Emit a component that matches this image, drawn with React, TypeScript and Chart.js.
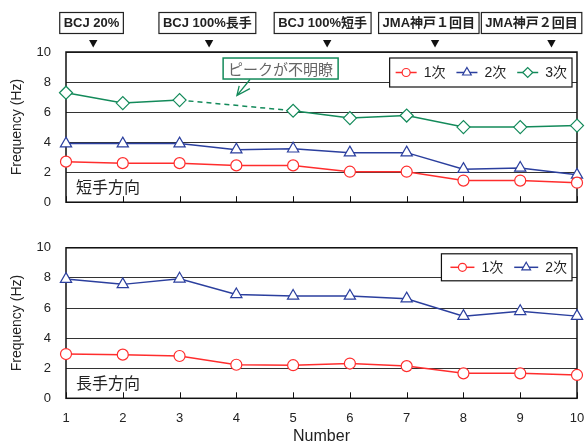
import React, { useEffect, useRef } from 'react';
import { Chart, registerables } from 'chart.js';
import { drawPoint } from 'chart.js/helpers';
Chart.register(...registerables);

// ---- data ----
const numbers = [1, 2, 3, 4, 5, 6, 7, 8, 9, 10];
const short1 = [2.7, 2.6, 2.6, 2.45, 2.45, 2.03, 2.03, 1.44, 1.44, 1.3];
const short2 = [3.9, 3.9, 3.9, 3.5, 3.56, 3.3, 3.3, 2.2, 2.28, 1.82];
const short3 = [7.29, 6.6, 6.8, null, 6.09, 5.6, 5.77, 5.0, 5.0, 5.1];
const long1 = [2.94, 2.9, 2.81, 2.23, 2.2, 2.31, 2.14, 1.66, 1.66, 1.55];
const long2 = [7.92, 7.57, 7.94, 6.9, 6.8, 6.8, 6.62, 5.46, 5.78, 5.46];
const yTicks = [0, 2, 4, 6, 8, 10];
const seriesNames = ['1次', '2次', '3次'];
const caseLabels = ['BCJ 20%', 'BCJ 100%長手', 'BCJ 100%短手', 'JMA神戸１回目', 'JMA神戸２回目'];
const caseArrowAt = [1.48, 3.52, 5.6, 7.5, 9.55];
const caseBoxAt = [1.45, 3.49, 5.52, 7.39, 9.2];
const noteText = 'ピークが不明瞭';

// ---- styles ----
const RED = '#ff2d2d';
const BLUE = '#2b3f9e';
const GREEN = '#138a5a';
const FONT = "'Liberation Sans', Arial, 'Noto Sans CJK JP', sans-serif";
const CJK = "'Noto Sans CJK JP', 'Liberation Sans', sans-serif";
const TXT = '#222';

const styles = [
  { color: RED, pointStyle: 'circle', radius: 5.5 },
  { color: BLUE, pointStyle: 'triangle', radius: 6.5 },
  { color: GREEN, pointStyle: 'rectRot', radius: 6.5 },
];

const decoPlugin = {
  id: 'deco',
  beforeDatasetsDraw(chart: any) {
    const { ctx, chartArea: ca } = chart;
    const xs = chart.scales.x;
    ctx.save();
    ctx.strokeStyle = '#111';
    ctx.lineWidth = 1.5;
    ctx.strokeRect(ca.left, ca.top, ca.right - ca.left, ca.bottom - ca.top);
    ctx.lineWidth = 1;
    numbers.forEach((n) => {
      const x = Math.round(xs.getPixelForValue(n)) + 0.5;
      ctx.beginPath();
      ctx.moveTo(x, ca.bottom);
      ctx.lineTo(x, ca.bottom - 6);
      ctx.stroke();
    });
    ctx.restore();
  },
  afterDraw(chart: any, _a: any, opts: any) {
    const { ctx, chartArea: ca } = chart;
    const xs = chart.scales.x;
    const ys = chart.scales.y;
    ctx.save();
    // side label
    ctx.font = `16px ${CJK}`;
    ctx.fillStyle = TXT;
    ctx.textAlign = 'left';
    ctx.textBaseline = 'middle';
    ctx.fillText(opts.sideLabel, ca.left + 10, ca.bottom - 15);

    // legend
    const n = opts.legendCount;
    ctx.font = `14px ${FONT}`;
    const lineLen = opts.lineLen;
    const padL = opts.padL;
    const padR = 5;
    const gapText = 7;
    const gapItem = 11;
    const tw = seriesNames.slice(0, n).map((t) => ctx.measureText(t).width);
    let total = padL + padR;
    for (let i = 0; i < n; i++) total += lineLen + gapText + tw[i] + (i < n - 1 ? gapItem : 0);
    const bx = ca.right - 5 - total;
    const by = ca.top + 6;
    const bh = opts.legendH;
    ctx.fillStyle = '#fff';
    ctx.fillRect(bx, by, total, bh);
    ctx.strokeStyle = '#111';
    ctx.lineWidth = 1.2;
    ctx.strokeRect(bx, by, total, bh);
    let cx = bx + padL;
    const cy = by + bh / 2;
    for (let i = 0; i < n; i++) {
      const st = styles[i];
      ctx.strokeStyle = st.color;
      ctx.lineWidth = 1.5;
      ctx.beginPath();
      ctx.moveTo(cx, cy);
      ctx.lineTo(cx + lineLen, cy);
      ctx.stroke();
      ctx.fillStyle = '#fff';
      ctx.strokeStyle = st.color;
      ctx.lineWidth = 1.2;
      drawPoint(ctx, { pointStyle: st.pointStyle, rotation: 0, radius: st.radius - 1.5, borderWidth: 1.2 } as any, cx + lineLen / 2, cy);
      ctx.fillStyle = TXT;
      ctx.textAlign = 'left';
      ctx.textBaseline = 'middle';
      ctx.font = `14px ${FONT}`;
      ctx.fillText(seriesNames[i], cx + lineLen + gapText, cy + 1);
      cx += lineLen + gapText + tw[i] + gapItem;
    }

    if (opts.showCases) {
      // case labels above chart
      ctx.font = `bold 13px ${FONT}`;
      caseLabels.forEach((lab, i) => {
        const w = ctx.measureText(lab).width + 8;
        const c = xs.getPixelForValue(caseBoxAt[i]);
        ctx.fillStyle = '#fff';
        ctx.fillRect(c - w / 2, 12.5, w, 21);
        ctx.strokeStyle = '#222';
        ctx.lineWidth = 1.2;
        ctx.strokeRect(c - w / 2, 12.5, w, 21);
        ctx.fillStyle = TXT;
        ctx.textAlign = 'center';
        ctx.textBaseline = 'middle';
        ctx.fillText(lab, c, 23.5);
        const ax = xs.getPixelForValue(caseArrowAt[i]);
        ctx.fillStyle = '#111';
        ctx.beginPath();
        ctx.moveTo(ax - 4.2, 40);
        ctx.lineTo(ax + 4.2, 40);
        ctx.lineTo(ax, 47.5);
        ctx.closePath();
        ctx.fill();
      });

      // note box
      ctx.font = `15px ${CJK}`;
      const nw = ctx.measureText(noteText).width + 10;
      const nx = xs.getPixelForValue(4.78);
      const ny = ys.getPixelForValue(8.9);
      ctx.fillStyle = '#fff';
      ctx.fillRect(nx - nw / 2, ny - 10.5, nw, 21);
      ctx.strokeStyle = GREEN;
      ctx.lineWidth = 1.5;
      ctx.strokeRect(nx - nw / 2, ny - 10.5, nw, 21);
      ctx.fillStyle = '#666';
      ctx.textAlign = 'center';
      ctx.textBaseline = 'middle';
      ctx.fillText(noteText, nx, ny + 1);
      // arrow
      const sx = xs.getPixelForValue(4.24), sy = ys.getPixelForValue(8.17);
      const tx = xs.getPixelForValue(4.01), ty = ys.getPixelForValue(7.1);
      ctx.strokeStyle = GREEN;
      ctx.lineWidth = 1.3;
      ctx.beginPath();
      ctx.moveTo(sx, sy);
      ctx.lineTo(tx, ty);
      ctx.moveTo(tx + 2.3, ty - 9.7);
      ctx.lineTo(tx, ty);
      ctx.lineTo(tx + 13, ty - 7);
      ctx.stroke();
    }
    ctx.restore();
  },
};

function makeConfig(series: (number | null)[][], o: any) {
  return {
    type: 'line',
    data: {
      datasets: series.map((vals, i) => ({
        label: seriesNames[i],
        data: numbers.map((n, j) => ({ x: n, y: vals[j] })),
        borderColor: styles[i].color,
        backgroundColor: '#fff',
        pointBorderColor: styles[i].color,
        pointBackgroundColor: '#fff',
        pointStyle: styles[i].pointStyle,
        pointRadius: styles[i].radius,
        pointBorderWidth: 1.2,
        borderWidth: 1.5,
        spanGaps: true,
        clip: false,
        segment: {
          borderDash: (ctx: any) => (ctx.p0.skip || ctx.p1.skip ? [5, 4] : undefined),
        },
      })),
    },
    options: {
      responsive: false,
      animation: false,
      layout: { padding: { top: o.top, right: 8, left: 0, bottom: 0 } },
      plugins: {
        legend: { display: false },
        tooltip: { enabled: false },
        deco: o.deco,
      },
      scales: {
        x: {
          type: 'linear',
          min: 1,
          max: 10,
          afterBuildTicks: (s: any) => { s.ticks = numbers.map((v) => ({ value: v })); },
          afterFit: (s: any) => { s.height = o.xh; s.paddingLeft = 0; s.paddingRight = 0; },
          grid: { display: false, drawTicks: false },
          border: { display: false },
          ticks: { display: o.showX, padding: 12, color: TXT, font: { family: FONT, size: 13 } },
          title: { display: o.showX, text: 'Number', color: TXT, font: { family: FONT, size: 16 }, padding: { top: 0, bottom: 0 } },
        },
        y: {
          min: 0,
          max: 10,
          afterBuildTicks: (s: any) => { s.ticks = yTicks.map((v) => ({ value: v })); },
          afterFit: (s: any) => { s.width = 66; },
          grid: { color: '#333', lineWidth: 1, drawTicks: false },
          border: { display: false },
          ticks: { padding: 15, color: TXT, font: { family: FONT, size: 13 } },
          title: { display: true, text: 'Frequency (Hz)', color: TXT, font: { family: FONT, size: 14 }, padding: { top: 9, bottom: 0 } },
        },
      },
    },
    plugins: [decoPlugin],
  } as any;
}

export default function App() {
  const topRef = useRef<HTMLCanvasElement>(null);
  const botRef = useRef<HTMLCanvasElement>(null);
  useEffect(() => {
    const c1 = new Chart(topRef.current!, makeConfig([short1, short2, short3], {
      top: 52, xh: 14.5, showX: false,
      deco: { sideLabel: '短手方向', legendCount: 3, lineLen: 21, padL: 6, legendH: 29, showCases: true },
    }));
    const c2 = new Chart(botRef.current!, makeConfig([long1, long2], {
      top: 14.7, xh: 47.7, showX: true,
      deco: { sideLabel: '長手方向', legendCount: 2, lineLen: 24, padL: 9, legendH: 27, showCases: false },
    }));
    return () => { c1.destroy(); c2.destroy(); };
  }, []);
  return (
    <div style={{ position: 'absolute', left: 0, top: 0, width: 585, height: 446, background: '#fff' }}>
      <canvas ref={topRef} width={585} height={225} style={{ position: 'absolute', left: 0, top: 0 }} />
      <canvas ref={botRef} width={585} height={221} style={{ position: 'absolute', left: 0, top: 225 }} />
    </div>
  );
}
